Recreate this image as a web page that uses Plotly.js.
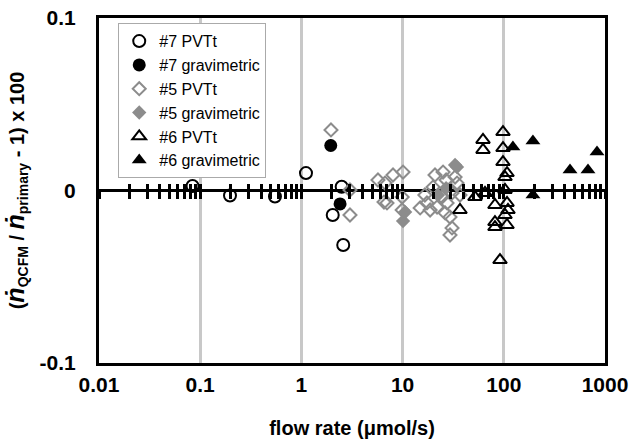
<!DOCTYPE html>
<html><head><meta charset="utf-8">
<script src="https://cdn.plot.ly/plotly-3.0.1.min.js"></script>
<style>body{margin:0;background:#fff}#c{width:633px;height:445px}</style>
</head><body><div id="c"></div>
<script>
// #7 PVTt (open circles)
const pvt7X = [0.084, 0.197, 0.548, 1.11, 2.50, 2.04, 2.59];
const pvt7Y = [0.0026, -0.0029, -0.0035, 0.0101, 0.0022, -0.0142, -0.0316];
// #7 gravimetric (filled circles)
const grav7X = [1.95, 2.41];
const grav7Y = [0.0261, -0.0078];
// #5 PVTt (open gray diamonds)
const pvt5X = [1.96, 3.02, 3.02, 5.71, 6.70, 6.55, 8.04, 10.1, 7.01, 9.9, 9.9, 14.9, 17.4, 20.0, 20.9, 21.9, 24.5, 25.1, 27.5, 29.4, 30.8, 29.4, 30.8, 34.5, 33.0, 16.6, 26.9, 18.7, 26.3, 36.9];
const pvt5Y = [0.0351, 0.0003, -0.0142, 0.0061, 0.0043, -0.0067, 0.0090, 0.0107, -0.0072, -0.0038, -0.0113, -0.0101, -0.0072, 0.0020, 0.0090, -0.0096, -0.0038, 0.0107, -0.0072, -0.0154, -0.0217, -0.0258, -0.0014, 0.0043, 0.0078, -0.0026, 0.0061, -0.0113, -0.0130, -0.0026];
// #5 gravimetric (filled gray diamonds)
const grav5X = [10.1, 10.6, 33.0, 34.5, 26.9, 22.4];
const grav5Y = [-0.0177, -0.0125, 0.0148, 0.0136, 0.0014, -0.0026];
// #6 PVTt (open triangles)
const pvt6X = [62.3, 62.3, 98.2, 98.2, 98.2, 107.6, 102.8, 51.9, 65.2, 36.9, 81.8, 107.6, 110, 102.8, 81.8, 81.8, 107.6, 91.7, 102.8];
const pvt6Y = [0.0293, 0.0235, 0.0339, 0.0246, 0.0165, 0.0101, 0.0078, -0.0038, -0.0014, -0.0113, -0.0084, -0.0072, -0.0113, -0.0142, -0.0183, -0.0212, -0.0200, -0.0403, 0.0003];
// #6 gravimetric (filled triangles)
const grav6X = [123, 194, 194, 451, 679, 834];
const grav6Y = [0.0252, 0.0287, -0.0026, 0.0119, 0.0119, 0.0223];

const yTickVals = [-0.1, 0, 0.1];
const yTickText = ['-0.1', '0', '0.1'];
const xTickVals = [0.01, 0.1, 1, 10, 100, 1000];
const xTickText = ['0.01', '0.1', '1', '10', '100', '1000'];

const FONT = '"Liberation Sans", Arial, sans-serif';
const GRAY = '#8c8c8c';

function tr(name, x, y, symbol, color, size, lw, grp) {
  return {type:'scatter', mode:'markers', name:name, x:x, y:y, legendgroup:grp,
    marker:{symbol:symbol, size:size, color:color, line:{color:color, width:lw}}, cliponaxis:false};
}
const data = [
  tr('#7 PVTt', pvt7X, pvt7Y, 'circle-open', '#000', 12, 2, 'a'),
  tr('#7 gravimetric', grav7X, grav7Y, 'circle', '#000', 13, 0, 'b'),
  tr('#5 PVTt', pvt5X, pvt5Y, 'diamond-open', GRAY, 10, 2, 'c'),
  tr('#5 gravimetric', grav5X, grav5Y, 'diamond', GRAY, 11, 0, 'd'),
  tr('#6 PVTt', pvt6X, pvt6Y, 'triangle-up-open', '#000', 12, 2, 'e'),
  tr('#6 gravimetric', grav6X, grav6Y, 'triangle-up', '#000', 13, 0, 'f'),
  {type:'scatter', x:[], y:[], xaxis:'x2', showlegend:false, hoverinfo:'skip'},
  {type:'scatter', x:[], y:[], xaxis:'x3', showlegend:false, hoverinfo:'skip'}
];

const xr = [-2, 3];
const zeroAx = (ticks) => ({type:'log', range:xr, overlaying:'x', anchor:'free', position:0.5, side:'bottom',
  showline:false, showgrid:false, zeroline:false, ticks:ticks, ticklen:7, tickwidth:3, tickcolor:'#000',
  dtick:'D1', showticklabels:false});

const layout = {
  width:633, height:445,
  margin:{l:99, r:28, t:18, b:82},
  paper_bgcolor:'#fff', plot_bgcolor:'#fff',
  font:{family:FONT, color:'#000'},
  showlegend:true,
  legend:{x:0.038, y:0.985, xanchor:'left', yanchor:'top', bgcolor:'#fff', bordercolor:'#aaa', borderwidth:1,
    font:{family:FONT, size:16, color:'#000'}, tracegroupgap:0, itemwidth:30},
  xaxis:{type:'log', range:xr, showline:true, mirror:true, linewidth:3, linecolor:'#000',
    showgrid:true, gridcolor:'#c8c8c8', gridwidth:3, zeroline:false, ticks:'',
    tickvals:xTickVals, ticktext:xTickText, ticklabelstandoff:1,
    tickfont:{family:FONT, size:21, weight:'bold'},
    title:{text:'<b>flow rate (μmol/s)</b>', font:{family:FONT, size:20}, standoff:26}},
  xaxis2: zeroAx('outside'),
  xaxis3: zeroAx('inside'),
  yaxis:{range:[-0.1, 0.1], showline:true, mirror:true, linewidth:3, linecolor:'#000',
    showgrid:false, zeroline:true, zerolinecolor:'#000', zerolinewidth:3, ticks:'',
    tickvals:yTickVals, ticktext:yTickText, ticklabelstandoff:16,
    tickfont:{family:FONT, size:21, weight:'bold'},
    title:{text:'<b>(<i><span style="font-size:25px">ṅ</span></i><sub>QCFM</sub> / <i><span style="font-size:25px">ṅ</span></i><sub>primary</sub> - 1) x 100</b>', font:{family:FONT, size:20}, standoff:10}}
};
Plotly.newPlot('c', data, layout, {displayModeBar:false, staticPlot:true});
</script></body></html>
